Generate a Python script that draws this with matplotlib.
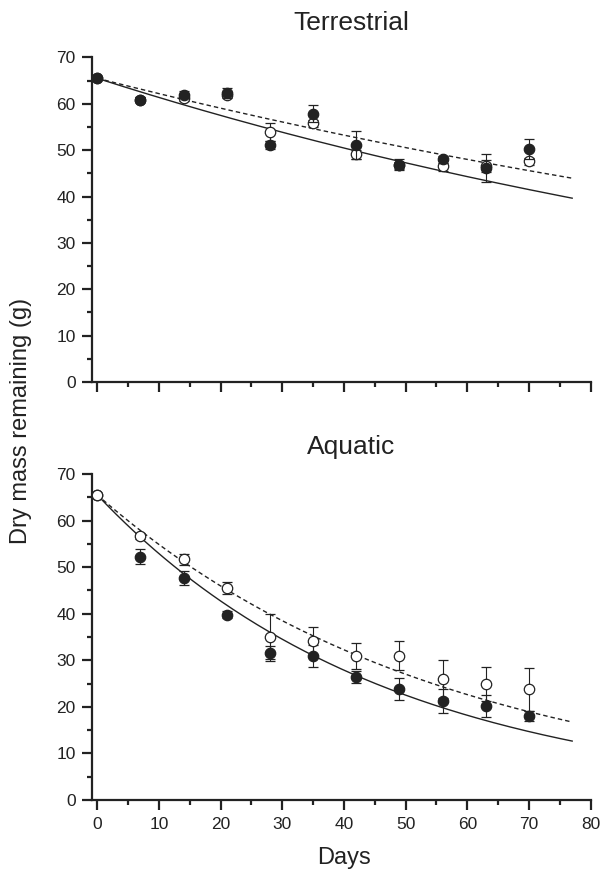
import numpy as np
import matplotlib
matplotlib.use("Agg")
import matplotlib.pyplot as plt
from matplotlib.ticker import MultipleLocator

plt.rcParams["font.family"] = ["Liberation Sans", "DejaVu Sans"]
ink = "#222222"

# Sampling days
days = [0, 7, 14, 21, 28, 35, 42, 49, 56, 63, 70]

# Terrestrial (filled / open symbols), mean and error
terr_closed = [65.5, 60.9, 62.0, 62.3, 51.1, 57.9, 51.2, 46.7, 48.0, 46.1, 50.3]
terr_closed_err = [0, 0.6, 0.8, 1.0, 0.8, 1.8, 3.0, 0.8, 0.8, 3.0, 2.1]
terr_open = [65.5, 60.9, 61.2, 62.0, 53.9, 55.8, 49.1, 46.9, 46.6, 46.6, 47.6]
terr_open_err = [0, 0.5, 0.6, 0.6, 2.0, 0.7, 1.0, 1.2, 1.0, 1.3, 0.7]

# Aquatic
aq_closed = [65.5, 52.2, 47.6, 39.8, 31.6, 30.9, 26.5, 23.8, 21.2, 20.2, 18.0]
aq_closed_err = [0, 1.6, 1.5, 0.8, 1.4, 2.4, 1.3, 2.4, 2.6, 2.4, 1.0]
aq_open = [65.5, 56.7, 51.7, 45.6, 34.9, 34.2, 31.0, 31.0, 26.0, 24.9, 23.8]
aq_open_err = [0, 0.6, 1.2, 1.3, 5.0, 3.0, 2.8, 3.1, 4.0, 3.6, 4.6]

# Exponential decay fits: initial mass and rate constants (per day)
m0 = 65.5
k_terr_closed = 0.00652
k_terr_open = 0.00518
k_aq_closed = 0.02136
k_aq_open = 0.01772
fit_end = 77

fig = plt.figure(figsize=(6.02, 8.74), dpi=100)
ax_top = fig.add_axes([0.1523, 0.5629, 0.8289, 0.3714])
ax_bot = fig.add_axes([0.1523, 0.0847, 0.8289, 0.3730])

t = np.linspace(0, fit_end, 200)


def draw_panel(ax, closed, closed_err, opn, opn_err, k_closed, k_open, open_on_top):
    ax.plot(t, m0 * np.exp(-k_closed * t), color=ink, lw=1.0, zorder=2)
    ax.plot(t, m0 * np.exp(-k_open * t), color=ink, lw=1.0,
            dashes=(3.2, 2.2), zorder=2)
    z_open, z_closed = (4, 3) if open_on_top else (3, 4)
    ax.errorbar(days, opn, yerr=opn_err, fmt="o", ms=7.5, mfc="white",
                mec=ink, mew=0.9, ecolor=ink, elinewidth=0.8, capsize=3.6,
                capthick=0.8, zorder=z_open)
    ax.errorbar(days, closed, yerr=closed_err, fmt="o", ms=7.5, mfc=ink,
                mec=ink, mew=0.9, ecolor=ink, elinewidth=0.8, capsize=3.6,
                capthick=0.8, zorder=z_closed)

    ax.set_xlim(-0.9, 80)
    ax.set_ylim(0, 70)
    ax.xaxis.set_major_locator(MultipleLocator(10))
    ax.xaxis.set_minor_locator(MultipleLocator(5))
    ax.yaxis.set_major_locator(MultipleLocator(10))
    ax.yaxis.set_minor_locator(MultipleLocator(5))
    for side in ["top", "right"]:
        ax.spines[side].set_visible(False)
    for side in ["left", "bottom"]:
        ax.spines[side].set_linewidth(1.6)
        ax.spines[side].set_color(ink)
    ax.tick_params(which="major", length=7.5, width=1.6, color=ink,
                   labelsize=12.5, labelcolor=ink, direction="out")
    ax.tick_params(which="minor", length=3.6, width=1.6, color=ink,
                   direction="out")
    ax.tick_params(axis="y", pad=4)
    ax.tick_params(axis="x", pad=5)
    ax.set_facecolor("white")


draw_panel(ax_top, terr_closed, terr_closed_err, terr_open, terr_open_err,
           k_terr_closed, k_terr_open, open_on_top=False)
draw_panel(ax_bot, aq_closed, aq_closed_err, aq_open, aq_open_err,
           k_aq_closed, k_aq_open, open_on_top=True)
ax_top.tick_params(axis="x", labelbottom=False)

fig.text(0.583, 0.974, "Terrestrial", ha="center", va="center",
         fontsize=19, color=ink)
fig.text(0.583, 0.488, "Aquatic", ha="center", va="center",
         fontsize=19, color=ink)
fig.text(0.035, 0.518, "Dry mass remaining (g)", rotation=90, ha="center",
         va="center", fontsize=17, color=ink)
fig.text(0.571, 0.018, "Days", ha="center", va="center", fontsize=17,
         color=ink)

fig.savefig("out.png", dpi=100, facecolor="white")
